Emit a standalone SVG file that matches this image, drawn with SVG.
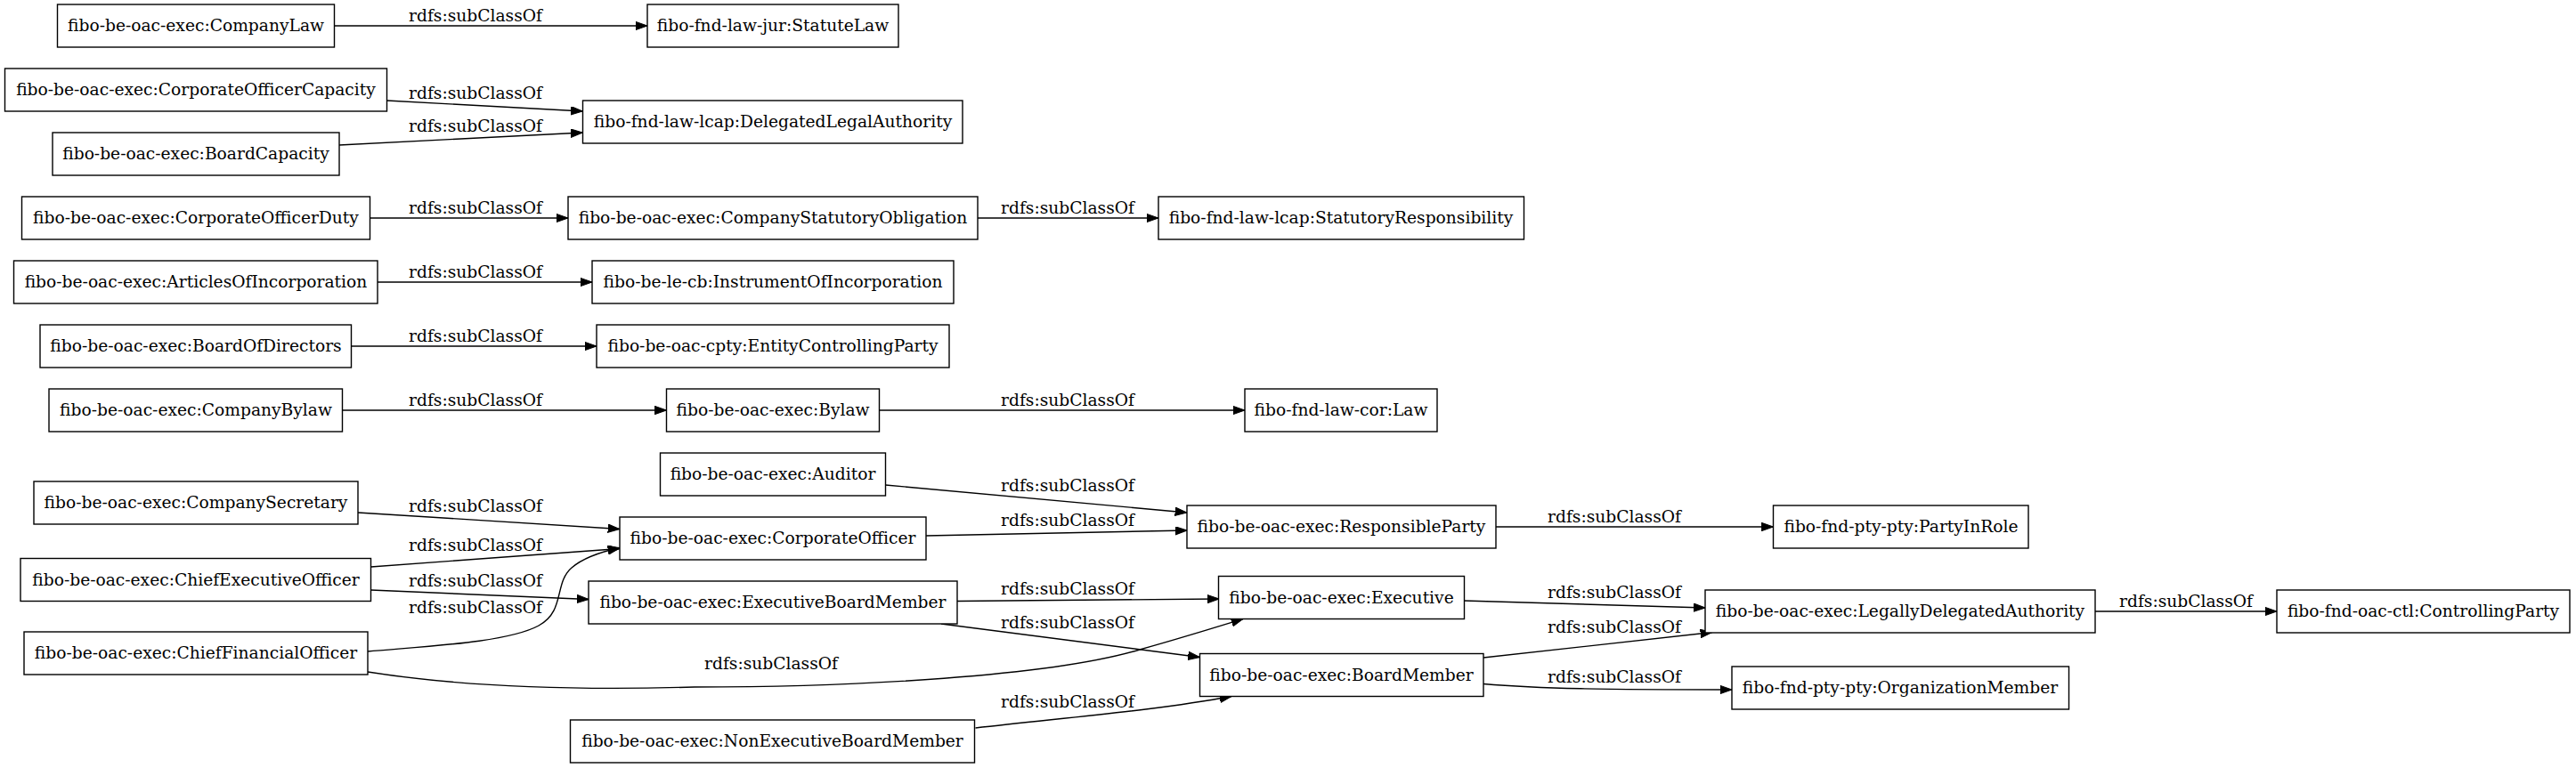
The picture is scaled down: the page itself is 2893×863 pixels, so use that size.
<svg xmlns="http://www.w3.org/2000/svg" width="2893" height="863" viewBox="0 0 2893 863">
<style>
.node rect{fill:#fff;stroke:#000;stroke-width:1.4}
.node text{font-family:"DejaVu Serif","Liberation Serif",serif;font-size:18.67px;text-anchor:middle;fill:#000}
.edge path{fill:none;stroke:#000;stroke-width:1.4}
.edge text{font-family:"DejaVu Serif","Liberation Serif",serif;font-size:18.67px;text-anchor:middle;fill:#000}
</style>
<defs>
<marker id="arr" markerUnits="userSpaceOnUse" markerWidth="14" markerHeight="10" refX="13.3" refY="4.7" orient="auto">
<path d="M0,0 L13.3,4.7 L0,9.4 Z" fill="#000" stroke="#000" stroke-width="1"/>
</marker>
</defs>
<rect width="2893" height="863" fill="#fff"/>
<g id="connectors" class="edge">
<path d="M375.5,29 L727,29" marker-end="url(#arr)"/><text x="534" y="24">rdfs:subClassOf</text>
<path d="M434.5,113 L654.5,125" marker-end="url(#arr)"/><text x="534" y="111">rdfs:subClassOf</text>
<path d="M381,163 L654.5,149" marker-end="url(#arr)"/><text x="534" y="147.5">rdfs:subClassOf</text>
<path d="M415.5,245 L638,245" marker-end="url(#arr)"/><text x="534" y="240">rdfs:subClassOf</text>
<path d="M1098,245 L1301,245" marker-end="url(#arr)"/><text x="1199" y="240">rdfs:subClassOf</text>
<path d="M424,317 L665,317" marker-end="url(#arr)"/><text x="534" y="312">rdfs:subClassOf</text>
<path d="M394.5,389 L670,389" marker-end="url(#arr)"/><text x="534" y="384">rdfs:subClassOf</text>
<path d="M384.5,461 L748.5,461" marker-end="url(#arr)"/><text x="534" y="456">rdfs:subClassOf</text>
<path d="M987.5,461 L1398,461" marker-end="url(#arr)"/><text x="1199" y="456">rdfs:subClassOf</text>
<path d="M994.5,545 L1333,576" marker-end="url(#arr)"/><text x="1199" y="551.5">rdfs:subClassOf</text>
<path d="M1040,602 L1333,596" marker-end="url(#arr)"/><text x="1199" y="590.5">rdfs:subClassOf</text>
<path d="M1680,592 L1991.5,592" marker-end="url(#arr)"/><text x="1813" y="586.5">rdfs:subClassOf</text>
<path d="M402,576 L696,594.5" marker-end="url(#arr)"/><text x="534" y="575">rdfs:subClassOf</text>
<path d="M416.5,637 L696,616.5" marker-end="url(#arr)"/><text x="534" y="619">rdfs:subClassOf</text>
<path d="M416.5,663 L661,673.5" marker-end="url(#arr)"/><text x="534" y="659">rdfs:subClassOf</text>
<path d="M413,732 C480,726 570,722 605,703 C635,687 622,655 642,638 C657,625 680,619 696,615.5" marker-end="url(#arr)"/><text x="534" y="689">rdfs:subClassOf</text>
<path d="M413,755 C520,772 640,776 780,772 C960,772 1180,760 1280,730 C1330,716 1365,705 1396,695.5" marker-end="url(#arr)"/><text x="866" y="751.5">rdfs:subClassOf</text>
<path d="M1075,675.5 L1369,673" marker-end="url(#arr)"/><text x="1199" y="668">rdfs:subClassOf</text>
<path d="M1057,701 L1347.5,738.5" marker-end="url(#arr)"/><text x="1199" y="706">rdfs:subClassOf</text>
<path d="M1095.5,818 C1200,806 1300,798 1383,782.5" marker-end="url(#arr)"/><text x="1199" y="795">rdfs:subClassOf</text>
<path d="M1644,675 L1915,683" marker-end="url(#arr)"/><text x="1813" y="671.5">rdfs:subClassOf</text>
<path d="M1666,739 L1923,710.5" marker-end="url(#arr)"/><text x="1813" y="710.5">rdfs:subClassOf</text>
<path d="M1666,768.5 C1730,774 1800,775 1945,775" marker-end="url(#arr)"/><text x="1813" y="766.5">rdfs:subClassOf</text>
<path d="M2353,687 L2557,687" marker-end="url(#arr)"/><text x="2455" y="681.5">rdfs:subClassOf</text>
</g>
<g id="n_CompanyLaw" class="node"><rect x="64.5" y="5" width="311" height="48"/><text x="220" y="35">fibo-be-oac-exec:CompanyLaw</text></g>
<g id="n_StatuteLaw" class="node"><rect x="727" y="5" width="282" height="48"/><text x="868" y="35">fibo-fnd-law-jur:StatuteLaw</text></g>
<g id="n_CorporateOfficerCapacity" class="node"><rect x="5.5" y="77" width="429" height="48"/><text x="220" y="107">fibo-be-oac-exec:CorporateOfficerCapacity</text></g>
<g id="n_DelegatedLegalAuthority" class="node"><rect x="654.5" y="113" width="426.5" height="48"/><text x="868" y="143">fibo-fnd-law-lcap:DelegatedLegalAuthority</text></g>
<g id="n_BoardCapacity" class="node"><rect x="59" y="149" width="322" height="48"/><text x="220" y="179">fibo-be-oac-exec:BoardCapacity</text></g>
<g id="n_CorporateOfficerDuty" class="node"><rect x="24.5" y="221" width="391" height="48"/><text x="220" y="251">fibo-be-oac-exec:CorporateOfficerDuty</text></g>
<g id="n_CompanyStatutoryObligation" class="node"><rect x="638" y="221" width="460" height="48"/><text x="868" y="251">fibo-be-oac-exec:CompanyStatutoryObligation</text></g>
<g id="n_StatutoryResponsibility" class="node"><rect x="1301" y="221" width="410.5" height="48"/><text x="1506" y="251">fibo-fnd-law-lcap:StatutoryResponsibility</text></g>
<g id="n_ArticlesOfIncorporation" class="node"><rect x="15.5" y="293" width="408.5" height="48"/><text x="220" y="323">fibo-be-oac-exec:ArticlesOfIncorporation</text></g>
<g id="n_InstrumentOfIncorporation" class="node"><rect x="665" y="293" width="406" height="48"/><text x="868" y="323">fibo-be-le-cb:InstrumentOfIncorporation</text></g>
<g id="n_BoardOfDirectors" class="node"><rect x="45" y="365" width="349.5" height="48"/><text x="220" y="395">fibo-be-oac-exec:BoardOfDirectors</text></g>
<g id="n_EntityControllingParty" class="node"><rect x="670" y="365" width="396" height="48"/><text x="868" y="395">fibo-be-oac-cpty:EntityControllingParty</text></g>
<g id="n_CompanyBylaw" class="node"><rect x="55" y="437" width="329.5" height="48"/><text x="220" y="467">fibo-be-oac-exec:CompanyBylaw</text></g>
<g id="n_Bylaw" class="node"><rect x="748.5" y="437" width="239" height="48"/><text x="868" y="467">fibo-be-oac-exec:Bylaw</text></g>
<g id="n_Law" class="node"><rect x="1398" y="437" width="216" height="48"/><text x="1506" y="467">fibo-fnd-law-cor:Law</text></g>
<g id="n_Auditor" class="node"><rect x="741.5" y="509" width="253" height="48"/><text x="868" y="539">fibo-be-oac-exec:Auditor</text></g>
<g id="n_CompanySecretary" class="node"><rect x="38" y="541" width="364" height="48"/><text x="220" y="571">fibo-be-oac-exec:CompanySecretary</text></g>
<g id="n_CorporateOfficer" class="node"><rect x="696" y="581" width="344" height="48"/><text x="868" y="611">fibo-be-oac-exec:CorporateOfficer</text></g>
<g id="n_ResponsibleParty" class="node"><rect x="1333" y="568" width="347" height="48"/><text x="1506.5" y="598">fibo-be-oac-exec:ResponsibleParty</text></g>
<g id="n_PartyInRole" class="node"><rect x="1991.5" y="568" width="286.5" height="48"/><text x="2135" y="598">fibo-fnd-pty-pty:PartyInRole</text></g>
<g id="n_ChiefExecutiveOfficer" class="node"><rect x="23" y="627.5" width="393.5" height="48"/><text x="220" y="657.5">fibo-be-oac-exec:ChiefExecutiveOfficer</text></g>
<g id="n_ExecutiveBoardMember" class="node"><rect x="661" y="653" width="414" height="48"/><text x="868" y="683">fibo-be-oac-exec:ExecutiveBoardMember</text></g>
<g id="n_Executive" class="node"><rect x="1368.5" y="647.5" width="276" height="48"/><text x="1506.5" y="677.5">fibo-be-oac-exec:Executive</text></g>
<g id="n_LegallyDelegatedAuthority" class="node"><rect x="1915" y="663" width="438" height="48"/><text x="2134" y="693">fibo-be-oac-exec:LegallyDelegatedAuthority</text></g>
<g id="n_ControllingParty" class="node"><rect x="2557" y="663" width="329" height="48"/><text x="2721.5" y="693">fibo-fnd-oac-ctl:ControllingParty</text></g>
<g id="n_ChiefFinancialOfficer" class="node"><rect x="27" y="710" width="386" height="48"/><text x="220" y="740">fibo-be-oac-exec:ChiefFinancialOfficer</text></g>
<g id="n_BoardMember" class="node"><rect x="1347.5" y="734.5" width="318.5" height="48"/><text x="1506.5" y="764.5">fibo-be-oac-exec:BoardMember</text></g>
<g id="n_OrganizationMember" class="node"><rect x="1945" y="749" width="378.5" height="48"/><text x="2134" y="779">fibo-fnd-pty-pty:OrganizationMember</text></g>
<g id="n_NonExecutiveBoardMember" class="node"><rect x="640.5" y="809" width="454" height="48"/><text x="867.5" y="839">fibo-be-oac-exec:NonExecutiveBoardMember</text></g>
</svg>
